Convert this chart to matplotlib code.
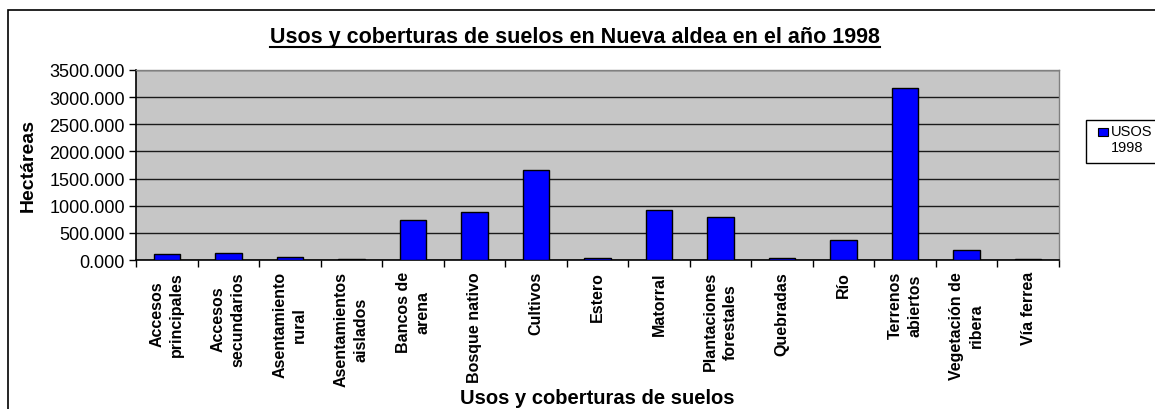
import matplotlib
matplotlib.use("Agg")
import matplotlib.pyplot as plt
from matplotlib.patches import Rectangle
from matplotlib.lines import Line2D
import numpy as np

plt.rcParams['font.family'] = ['Liberation Sans', 'DejaVu Sans']

categories = ["Accesos\nprincipales", "Accesos\nsecundarios", "Asentamiento\nrural",
              "Asentamientos\naislados", "Bancos de\narena", "Bosque nativo", "Cultivos",
              "Estero", "Matorral", "Plantaciones\nforestales", "Quebradas", "Río",
              "Terrenos\nabiertos", "Vegetación de\nribera", "Vía ferrea"]
values = [104, 130, 61, 20, 740, 881, 1659, 43, 917, 787, 37, 362, 3167, 178, 20]
yticks = [0, 500, 1000, 1500, 2000, 2500, 3000, 3500]
series_label = "USOS\n1998"
title = "Usos y coberturas de suelos en Nueva aldea en el año 1998"
xlabel = "Usos y coberturas de suelos"
ylabel = "Hectáreas"

W, H = 1155, 410
fig = plt.figure(figsize=(W / 100, H / 100), dpi=100)
fig.patch.set_facecolor('white')

L, R, T, B = 136, 1059, 71, 261
ax = fig.add_axes([L / W, 1 - B / H, (R - L) / W, (B - T) / H])
ax.set_facecolor('#c6c6c6')

x = np.arange(len(categories))
ax.bar(x, values, width=0.43, color='#0000ff', edgecolor='black', linewidth=1.0, zorder=3)
ax.set_xlim(-0.5, len(categories) - 0.5)
ax.set_ylim(0, 3500)
ax.set_yticks(yticks)
ax.set_yticklabels([f"{v:.3f}" for v in yticks], fontsize=13)
ax.yaxis.grid(True, color='#1a1a1a', linewidth=1.0, zorder=1)
ax.set_axisbelow(True)

ax.set_xticks(x)
ax.set_xticklabels(categories, rotation=90, fontsize=11.5, fontweight='bold',
                   multialignment='center', va='top', ha='center', linespacing=1.4)
ax.tick_params(axis='x', length=0, pad=8)
ax.set_xticks(np.arange(-0.5, len(categories) + 0.5, 1), minor=True)
ax.tick_params(axis='x', which='minor', length=5, width=1, color='black')
ax.tick_params(axis='y', length=5, width=1, color='black', pad=3)

for s in ['left', 'bottom']:
    ax.spines[s].set_color('black')
    ax.spines[s].set_linewidth(1.2)
for s in ['top', 'right']:
    ax.spines[s].set_color('#808080')
    ax.spines[s].set_linewidth(1.0)

ax.set_ylabel(ylabel, fontsize=14, fontweight='bold', va='center')
ax.yaxis.set_label_coords((28 - L) / (R - L), 0.5)
ax.set_xlabel(xlabel, fontsize=14.5, fontweight='bold', va='center')
ax.xaxis.set_label_coords(0.5, (B - 398) / (B - T))

# title with underline
ttl = fig.text(575 / W, 1 - 37 / H, title, fontsize=15.5, fontweight='bold',
               ha='center', va='center')
fig.canvas.draw()
bb = ttl.get_window_extent()
fig.add_artist(Line2D([bb.x0 / W, bb.x1 / W], [(bb.y0 - 0.5) / H, (bb.y0 - 0.5) / H],
                      transform=fig.transFigure, color='black', linewidth=1.5))

# outer chart frame
fig.add_artist(Rectangle((8 / W, -1), 2, 2 - 11 / H, transform=fig.transFigure,
                         fill=False, edgecolor='black', linewidth=1.2, clip_on=False))

# legend (manual)
fig.add_artist(Rectangle((1086 / W, 1 - 164 / H), 0.2, 43 / H, transform=fig.transFigure,
                         facecolor='white', edgecolor='black', linewidth=1.0))
fig.add_artist(Rectangle((1098 / W, 1 - 137 / H), 10 / W, 8 / H, transform=fig.transFigure,
                         facecolor='#0000ff', edgecolor='black', linewidth=0.8))
fig.text(1111 / W, 1 - 140 / H, series_label, fontsize=10.5, ha='left', va='center',
         multialignment='left', linespacing=1.15)

fig.savefig('out.png', dpi=100)
